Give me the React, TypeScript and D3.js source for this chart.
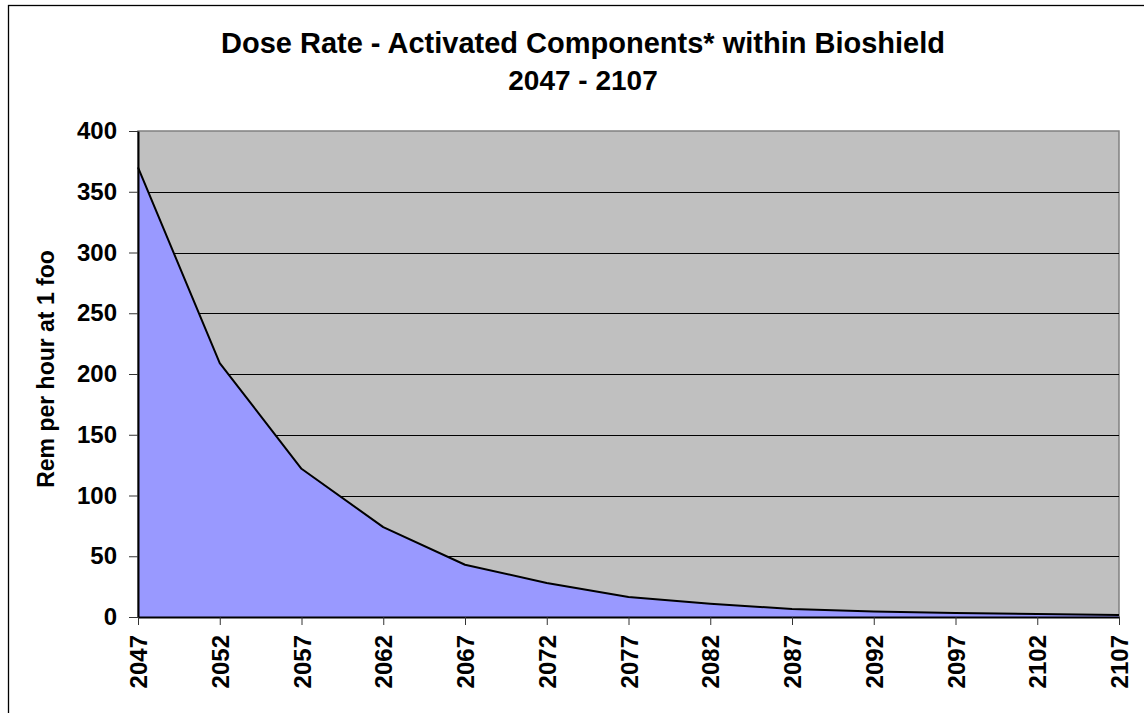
import React, { useEffect, useRef } from "react";
import * as d3 from "d3";

// values
const years = [2047, 2052, 2057, 2062, 2067, 2072, 2077, 2082, 2087, 2092, 2097, 2102, 2107];
const doseRate = [370, 209, 122, 74, 43, 28, 16.5, 11, 6.6, 4.5, 3.2, 2.4, 1.6];
const yTicks = [0, 50, 100, 150, 200, 250, 300, 350, 400];
const titleLines = ["Dose Rate - Activated Components* within Bioshield", "2047 - 2107"];
const yLabel = "Rem per hour at 1 foo";

const FONT = "'Liberation Sans', Arial, sans-serif";

export default function App() {
  const ref = useRef<SVGSVGElement>(null);

  useEffect(() => {
    const width = 1144;
    const height = 713;
    const margin = { top: 131, right: 25, bottom: 96, left: 138 };
    const innerWidth = width - margin.left - margin.right;
    const innerHeight = height - margin.top - margin.bottom;

    const svg = d3.select(ref.current).attr("width", width).attr("height", height);
    svg.selectAll("*").remove();

    // outer chart frame (runs off the right and bottom of the picture)
    svg.append("rect").attr("x", 8.5).attr("y", 5.5).attr("width", 1200).attr("height", 800)
      .attr("fill", "white").attr("stroke", "black").attr("stroke-width", 1.3);

    svg.append("g").selectAll("text").data(titleLines).join("text")
      .attr("x", 583).attr("y", (d, i) => 53 + i * 37)
      .attr("text-anchor", "middle").attr("font-family", FONT).attr("font-weight", "bold")
      .attr("font-size", (d, i) => (i === 0 ? "29px" : "28px")).text(d => d);

    const inner = svg.append("g").attr("transform", `translate(${margin.left}, ${margin.top})`);

    const xScale = d3.scalePoint<string>().domain(years.map(String)).range([0, innerWidth]);
    const yScale = d3.scaleLinear().domain([0, 400]).range([innerHeight, 0]);

    // plot area
    inner.append("rect").attr("x", 0).attr("y", 0).attr("width", innerWidth).attr("height", innerHeight)
      .attr("fill", "#c0c0c0").attr("stroke", "#808080").attr("stroke-width", 1.5);

    inner.selectAll(".grid").data(yTicks.filter(d => d > 0 && d < 400)).join("line").attr("class", "grid")
      .attr("x1", 0).attr("x2", innerWidth)
      .attr("y1", d => Math.round(yScale(d)) + 0.5).attr("y2", d => Math.round(yScale(d)) + 0.5)
      .attr("stroke", "black").attr("stroke-width", 1);

    const pts = years.map((y, i) => ({ year: String(y), value: doseRate[i] }));
    const area = d3.area<{ year: string; value: number }>()
      .x(d => xScale(d.year) as number).y0(innerHeight).y1(d => yScale(d.value));
    const line = d3.line<{ year: string; value: number }>()
      .x(d => xScale(d.year) as number).y(d => yScale(d.value));

    inner.append("path").datum(pts).attr("d", area).attr("fill", "#9999ff");
    inner.append("path").datum(pts).attr("d", line).attr("fill", "none")
      .attr("stroke", "black").attr("stroke-width", 2).attr("stroke-linejoin", "round");

    const yAxis = d3.axisLeft(yScale).tickValues(yTicks).tickSize(9).tickSizeOuter(0).tickPadding(12);
    const xAxis = d3.axisBottom(xScale).tickSize(8).tickSizeOuter(0);

    const gy = inner.append("g").attr("class", "y-axis").call(yAxis);
    const gx = inner.append("g").attr("class", "x-axis").attr("transform", `translate(0, ${innerHeight})`).call(xAxis);

    [gy, gx].forEach(g => {
      g.attr("font-family", FONT).attr("font-size", "24px").attr("font-weight", "bold");
      g.selectAll("text").attr("fill", "black");
      g.selectAll(".tick line").attr("stroke", "#333");
      g.select(".domain").attr("stroke", "black").attr("stroke-width", 2);
    });

    gx.selectAll(".tick text").attr("transform", "rotate(-90)").attr("text-anchor", "end")
      .attr("x", -18).attr("y", 0).attr("dy", "0.36em");

    svg.append("text").attr("transform", `translate(46, 369) rotate(-90)`)
      .attr("text-anchor", "middle").attr("dy", "0.35em").attr("font-family", FONT)
      .attr("font-weight", "bold").attr("font-size", "23px").text(yLabel);
  }, []);

  return <svg ref={ref} style={{ position: "absolute", left: 0, top: 0 }}></svg>;
}
